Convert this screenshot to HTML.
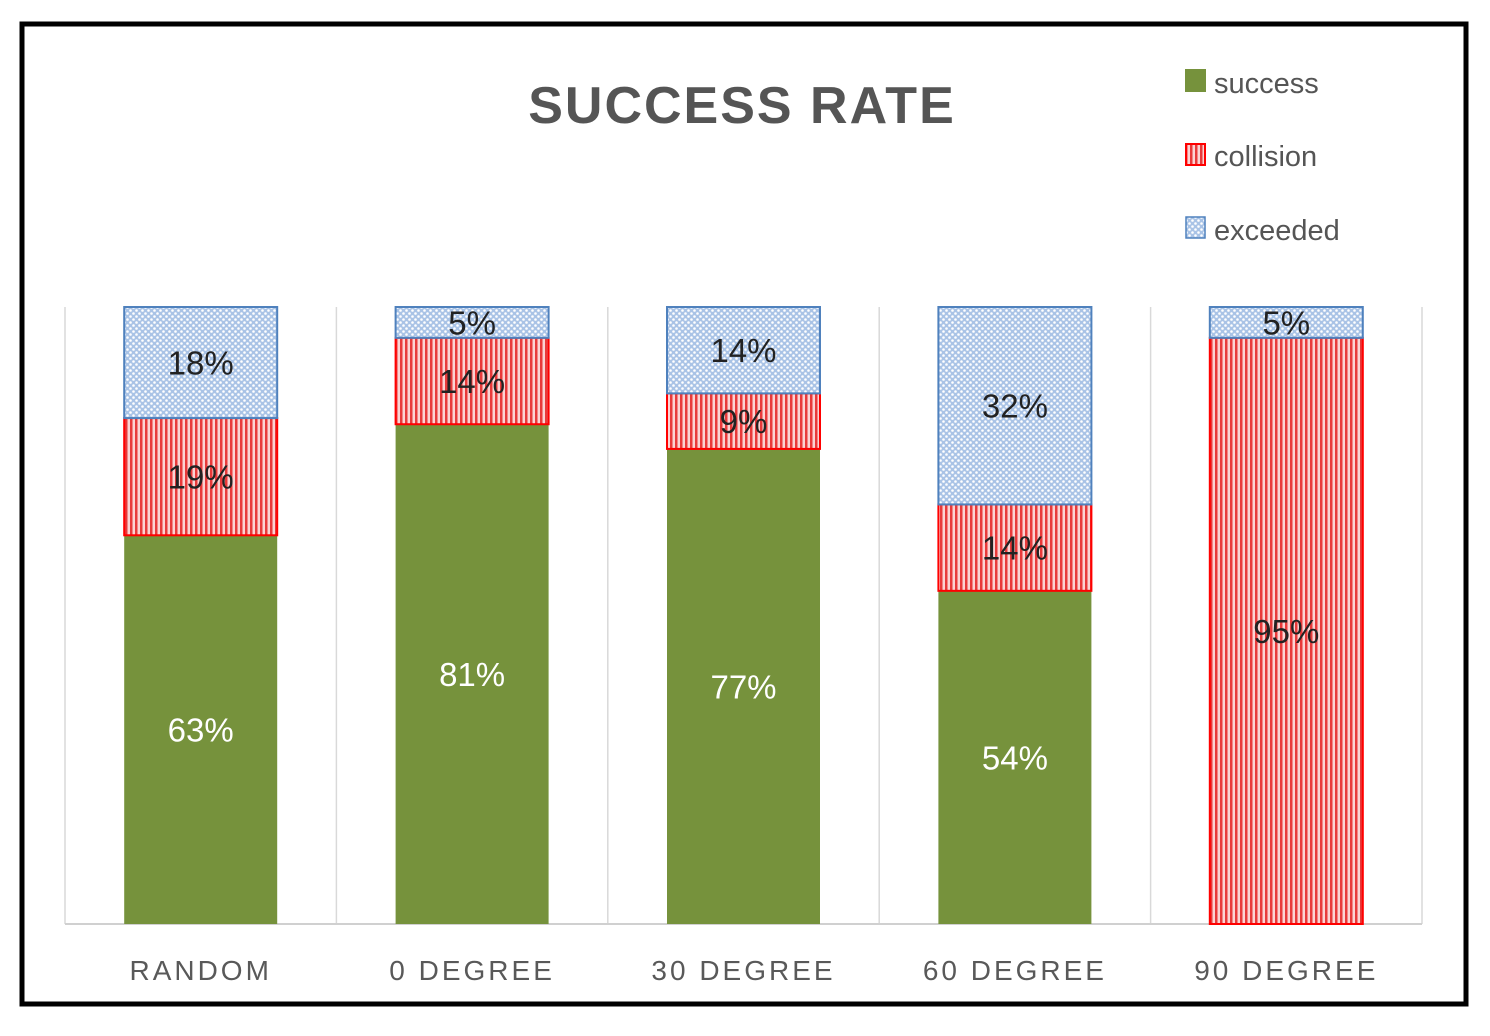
<!DOCTYPE html>
<html><head><meta charset="utf-8"><style>
html,body{margin:0;padding:0;background:#fff;}
svg{display:block;}
text{font-family:"Liberation Sans",sans-serif;}
</style></head><body>
<svg id="chart" width="1490" height="1036" viewBox="0 0 1490 1036">
<defs>
<pattern id="stripes" width="5" height="10" patternUnits="userSpaceOnUse">
<rect width="5" height="10" fill="#fbd3d3"/>
<rect x="0" width="2.5" height="10" fill="#e83a3a"/>
</pattern>
<pattern id="dots" width="6" height="6" patternUnits="userSpaceOnUse">
<rect width="6" height="6" fill="#a9c3e6"/>
<circle cx="1.5" cy="1.5" r="1.3" fill="#fff"/>
<circle cx="4.5" cy="4.5" r="1.3" fill="#fff"/>
</pattern>
</defs>
<rect x="22" y="24" width="1444" height="980" fill="#fff" stroke="#000" stroke-width="5"/>
<text x="742" y="123" text-anchor="middle" font-size="52" font-weight="bold" fill="#555" letter-spacing="2">SUCCESS RATE</text>
<g>
<g><rect x="1185" y="69" width="21" height="23" fill="#76923c"/><text x="1214" y="93" font-size="29" fill="#555">success</text></g>
<g><rect x="1186" y="144" width="19" height="21" fill="url(#stripes)" stroke="#f00" stroke-width="2"/><text x="1214" y="166" font-size="29" fill="#555">collision</text></g>
<g><rect x="1186" y="217" width="19" height="21" fill="url(#dots)" stroke="#4f81bd" stroke-width="1.5"/><text x="1214" y="240" font-size="29" fill="#555">exceeded</text></g>
</g>
<g id="plot"></g>
</svg>
<script>
const categories = ["RANDOM","0 DEGREE","30 DEGREE","60 DEGREE","90 DEGREE"];
const success = [63,81,77,54,0];
const collision = [19,14,9,14,95];
const exceeded = [18,5,14,32,5];

const NS="http://www.w3.org/2000/svg";
const plot=document.getElementById('plot');
const pLeft=65,pRight=1422,pBottom=924,yTop=307;
const bandW=(pRight-pLeft)/categories.length, barW=153;
const yScale=v=>pBottom-(v/100)*(pBottom-yTop);
const xBand=i=>pLeft+i*bandW;
function mk(tag,attrs,parent){const e=document.createElementNS(NS,tag);for(const k in attrs)e.setAttribute(k,attrs[k]);parent.appendChild(e);return e;}
for(let i=0;i<=categories.length;i++){
  const g=mk('line',{x1:xBand(i),x2:xBand(i),y1:yTop,y2:pBottom,stroke:'#d9d9d9','stroke-width':1.5},plot);
  
  
}
const ax=mk('line',{x1:pLeft,x2:pRight,y1:pBottom,y2:pBottom,stroke:'#d0d0d0','stroke-width':2},plot);


const series=[
 {name:'success',vals:success,fill:'#76923c',stroke:'none',tc:'#fff'},
 {name:'collision',vals:collision,fill:'url(#stripes)',stroke:'#f00',tc:'#222'},
 {name:'exceeded',vals:exceeded,fill:'url(#dots)',stroke:'#4f81bd',tc:'#222'}
];
categories.forEach((c,i)=>{
  const cx=xBand(i)+bandW/2, x0=cx-barW/2;
  let base=0;
  series.forEach(s=>{
    const v=s.vals[i];
    if(v>0){
      const r=mk('rect',{x:x0,y:yScale(base+v),width:barW,height:yScale(base)-yScale(base+v),fill:s.fill,stroke:s.stroke,'stroke-width':2},plot);
      
      
      const t=mk('text',{x:cx,y:(yScale(base)+yScale(base+v))/2+12,'text-anchor':'middle','font-size':33,fill:s.tc},plot);
      t.textContent=v+'%';
      
      
    }
    base+=v;
  });
  const l=mk('text',{x:cx,y:980,'text-anchor':'middle','font-size':28,fill:'#595959','letter-spacing':3},plot);
  l.textContent=c;
  
  
});
</script>
</body></html>
